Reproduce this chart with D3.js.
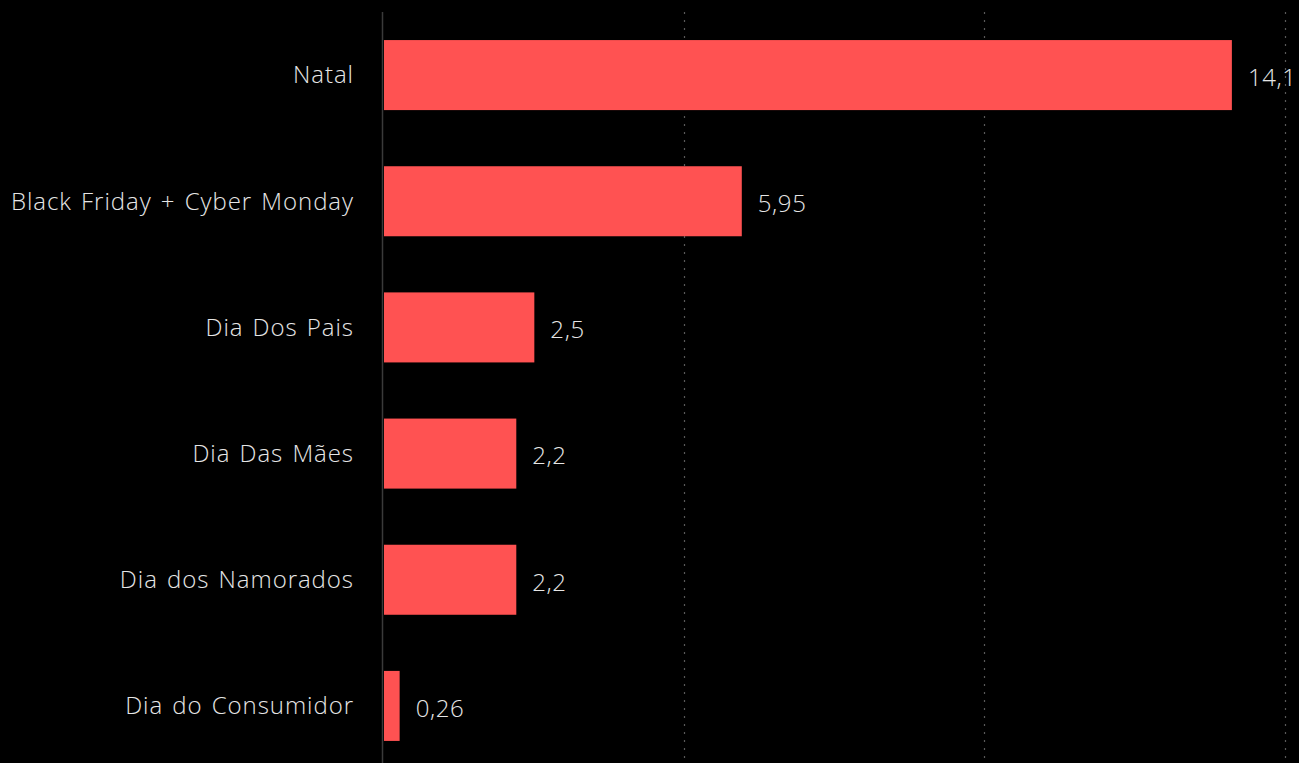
<!DOCTYPE html>
<html>
<head>
<meta charset="utf-8">
<script src="https://cdn.jsdelivr.net/npm/d3@7"></script>
<style>
  html, body { margin: 0; padding: 0; background: #000; }
  svg { display: block; }
</style>
</head>
<body>
<div id="chart"></div>
<script>
// ── DONNÉES ────────────────────────────────────────────────────────────────
const categories = ['Natal', 'Black Friday + Cyber Monday', 'Dia Dos Pais', 'Dia Das Mães', 'Dia dos Namorados', 'Dia do Consumidor'];
const values     = [14.1, 5.95, 2.5, 2.2, 2.2, 0.26];
const valueLabels = ['14,1', '5,95', '2,5', '2,2', '2,2', '0,26'];
const gridTicks  = [5, 10, 15];

const W = 1299, H = 763;
const FONT = '"Open Sans", sans-serif';

const svg = d3.select('#chart').append('svg').attr('width', W).attr('height', H);
svg.append('rect').attr('width', W).attr('height', H).attr('fill', '#000');

const x = d3.scaleLinear().domain([0, 15]).range([384, 1286]);
const y = d3.scaleBand().domain(categories).range([12, 769]).paddingInner(0.445).paddingOuter(0.2225);

// Grille pointillée
svg.append('g').selectAll('line').data(gridTicks).enter().append('line')
  .attr('x1', d => Math.round(x(d)) - 0.5).attr('x2', d => Math.round(x(d)) - 0.5)
  .attr('y1', 12).attr('y2', H)
  .attr('stroke', '#5a5a5a').attr('stroke-width', 1.2)
  .attr('stroke-dasharray', '2,6');

// Barres
const data = categories.map((c, i) => ({ c, v: values[i], label: valueLabels[i] }));
svg.append('g').selectAll('rect').data(data).enter().append('rect')
  .attr('x', x(0)).attr('y', d => y(d.c))
  .attr('width', d => x(d.v) - x(0)).attr('height', y.bandwidth())
  .attr('fill', '#ff5252');

// Axe vertical
svg.append('line').attr('x1', 382.5).attr('x2', 382.5).attr('y1', 12).attr('y2', H)
  .attr('stroke', '#3a3a3a').attr('stroke-width', 1.5);

// Libellés catégories
svg.append('g').selectAll('text').data(data).enter().append('text')
  .attr('x', 354).attr('y', d => y(d.c) + y.bandwidth() / 2)
  .attr('dy', '0.35em').attr('text-anchor', 'end')
  .attr('fill', '#e6e6e6').attr('font-family', FONT).attr('font-weight', 300)
  .attr('font-size', '24px').attr('letter-spacing', '0.95px').attr('word-spacing', '2px')
  .text(d => d.c);

// Valeurs
svg.append('g').selectAll('text').data(data).enter().append('text')
  .attr('x', d => x(d.v) + 16).attr('y', d => y(d.c) + y.bandwidth() / 2)
  .attr('dy', '0.45em')
  .attr('fill', '#e6e6e6').attr('font-family', FONT).attr('font-weight', 300)
  .attr('font-size', '24px').attr('letter-spacing', '0.6px')
  .text(d => d.label);
</script>
</body>
</html>
